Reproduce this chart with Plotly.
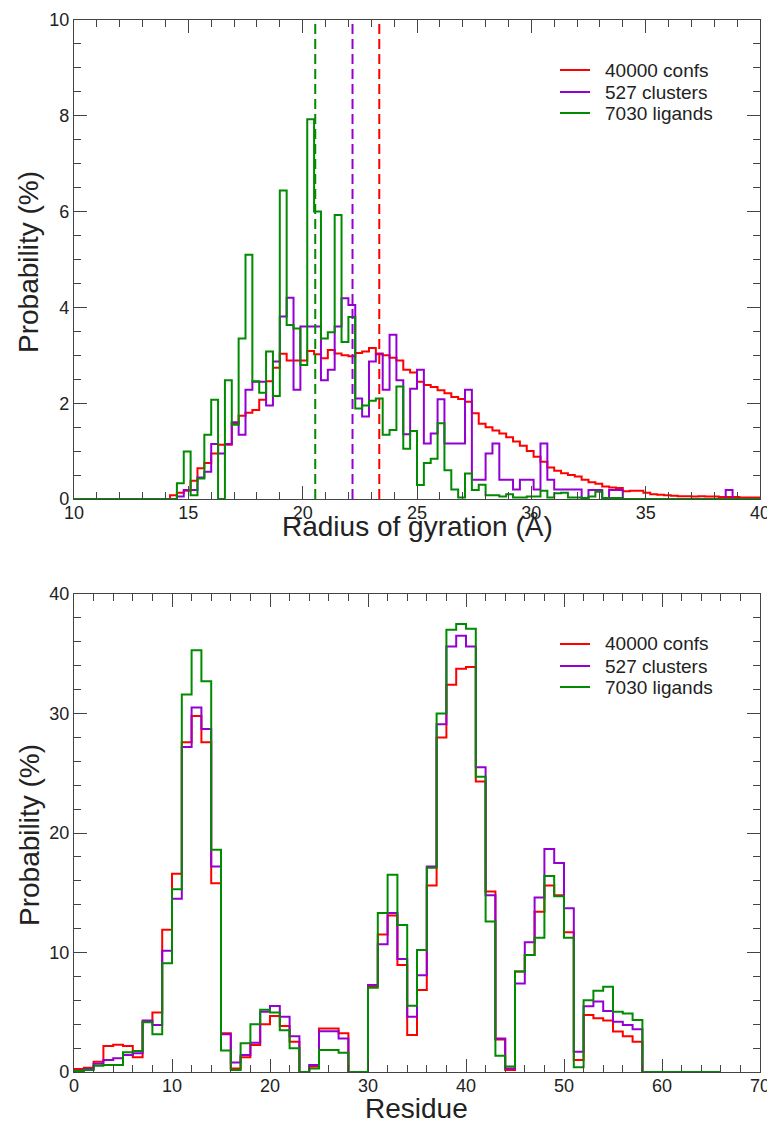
import numpy as np
import plotly.graph_objects as go

# ---------------- data ----------------
series_names = ["40000 confs", "527 clusters", "7030 ligands"]
series_colors = ["#ff0000", "#9400d3", "#008b00"]

# Radius of gyration histogram: bins of 0.3 A starting at 10 A (100 bins)
rg_start = 10.0
rg_width = 0.3
rg_red = [0]*14 + [
    0.08, 0.13, 0.17, 0.38, 0.64, 0.75, 0.95, 1.13, 1.13, 1.58,
    1.74, 1.80, 1.86, 2.07, 2.46, 2.74, 3.03, 2.89, 2.89, 2.89,
    3.09, 3.02, 2.94, 3.11, 3.04, 3.00, 2.98, 3.05, 3.08, 3.15,
    3.04, 3.00, 2.95, 2.89, 2.70, 2.64, 2.45, 2.38, 2.34, 2.27,
    2.21, 2.13, 2.09, 2.03, 1.79, 1.57, 1.50, 1.43, 1.37, 1.29,
    1.20, 1.11, 1.00, 0.88, 0.78, 0.66, 0.59, 0.54, 0.50, 0.47,
    0.40, 0.35, 0.32, 0.26, 0.24, 0.23, 0.16, 0.17, 0.17, 0.13,
    0.10, 0.09, 0.08, 0.07, 0.06, 0.06, 0.05, 0.06, 0.05, 0.05,
    0.04, 0.04, 0.04, 0.03, 0.03, 0.03]
rg_purple = [0]*15 + [
    0.05, 0.19, 0.19, 0.45, 0.57, 1.15, 0.95, 1.15, 1.60, 1.34,
    2.28, 2.45, 2.45, 1.95, 2.87, 3.81, 4.20, 2.28, 3.60, 3.60,
    3.60, 2.48, 2.70, 3.60, 4.19, 4.05, 2.10, 1.72, 2.87, 3.02,
    2.28, 3.43, 2.48, 1.35, 2.30, 2.70, 1.16, 1.37, 2.08, 1.16,
    1.16, 1.16, 2.28, 0.40, 0.40, 0.95, 1.16, 0.40, 0.40, 0.20,
    0.40, 0.40, 0.20, 1.16, 0.40, 0.20, 0.20, 0.20, 0.20, 0.02,
    0.19, 0.19, 0.00, 0.19, 0.19, 0, 0, 0, 0, 0,
    0, 0, 0, 0, 0, 0, 0, 0, 0, 0,
    0.19, 0, 0, 0, 0]
rg_green = [0]*15 + [
    0.33, 0.99, 0.08, 0.43, 1.34, 2.07, 0.00, 2.48, 1.55, 3.35,
    5.10, 2.46, 2.22, 3.08, 2.15, 6.44, 3.63, 3.56, 2.80, 7.93,
    6.00, 3.35, 3.48, 5.93, 3.28, 3.80, 1.89, 1.95, 2.05, 2.10,
    1.34, 1.44, 2.35, 1.05, 1.42, 0.29, 0.75, 0.84, 1.58, 0.60,
    0.20, 0.03, 0.53, 0.19, 0.30, 0.08, 0.08, 0.05, 0.10, 0.03,
    0.03, 0.05, 0.05, 0.17, 0.03, 0.12, 0.13, 0.03, 0.03, 0.02,
    0.05, 0.15, 0.02, 0.02, 0.02] + [0]*20
rg_means = [23.35, 22.18, 20.55]

# Residue histogram: bins of width 1 starting at 0 (66 bins)
res_start = 0.0
res_width = 1.0
res_red = [
    0.25, 0.36, 0.86, 2.18, 2.29, 2.18, 1.23, 4.20, 4.97, 11.9,
    16.6, 27.6, 29.8, 27.6, 15.8, 3.24, 0.30, 1.23, 2.26, 4.00,
    4.69, 3.85, 2.54, 0.00, 0.45, 3.65, 3.65, 3.24, 0.00, 0.00,
    7.20, 11.5, 13.1, 8.95, 3.10, 6.86, 15.6, 28.0, 32.4, 33.75,
    33.9, 24.3, 15.1, 2.73, 0.17, 8.40, 9.80, 13.4, 15.6, 14.8,
    11.7, 1.00, 4.77, 4.50, 4.30, 3.38, 3.00, 2.54] + [0]*8
res_purple = [
    0.10, 0.25, 0.70, 1.00, 1.15, 1.42, 1.56, 4.30, 3.93, 10.15,
    14.5, 27.2, 30.5, 28.7, 17.2, 3.15, 0.80, 1.42, 2.45, 5.05,
    5.52, 4.63, 3.00, 0.00, 0.59, 3.40, 3.40, 2.80, 0.00, 0.00,
    7.28, 10.7, 13.3, 9.46, 4.63, 8.10, 17.2, 29.1, 35.6, 36.5,
    35.6, 25.5, 14.8, 2.80, 0.30, 7.40, 10.85, 14.6, 18.66, 17.5,
    13.7, 1.70, 5.50, 5.90, 5.10, 4.20, 3.93, 3.57] + [0]*8
res_green = [
    0.08, 0.17, 0.53, 0.59, 0.59, 1.65, 1.76, 4.16, 3.15, 9.10,
    15.3, 31.6, 35.3, 32.7, 18.6, 1.80, 0.17, 2.40, 4.00, 5.20,
    4.97, 3.50, 1.98, 0.00, 0.30, 1.84, 1.84, 1.62, 0.00, 0.00,
    7.06, 13.3, 16.5, 12.3, 5.55, 10.2, 17.1, 30.0, 37.0, 37.5,
    37.1, 24.7, 12.6, 1.37, 0.45, 8.40, 9.80, 11.24, 16.4, 14.7,
    11.24, 0.39, 6.00, 6.80, 7.14, 5.05, 4.90, 4.35] + [0]*8

# ---------------- figure ----------------
PAGE_OFF = 8                      # default page margin round the plot div
W, H = 775 - PAGE_OFF, 1124 - PAGE_OFF
axis_col = "#444444"
text_col = "#222222"
font_family = "Liberation Sans, Arial, Helvetica, sans-serif"


def step_xy(start, width, vals):
    n = len(vals)
    edges = start + width * np.arange(n + 1)
    y = list(vals) + [vals[-1]]
    return edges, y


fig = go.Figure()

for name, col, vals in zip(series_names, series_colors, [rg_red, rg_purple, rg_green]):
    x, y = step_xy(rg_start, rg_width, vals)
    fig.add_trace(go.Scatter(x=x, y=y, mode="lines", line=dict(color=col, width=2, shape="hv"),
                             name=name, xaxis="x", yaxis="y", showlegend=False))

for col, m in zip(series_colors, rg_means):
    fig.add_trace(go.Scatter(x=[m, m], y=[0, 10], mode="lines",
                             line=dict(color=col, width=2, dash="10px,5px"),
                             showlegend=False, xaxis="x", yaxis="y", hoverinfo="skip"))

for name, col, vals in zip(series_names, series_colors, [res_red, res_purple, res_green]):
    x, y = step_xy(res_start, res_width, vals)
    fig.add_trace(go.Scatter(x=x, y=y, mode="lines", line=dict(color=col, width=2, shape="hv"),
                             name=name, xaxis="x2", yaxis="y2", showlegend=False))


def px_x(p):
    return (p - PAGE_OFF) / W


def px_y(p):
    return (H - (p - PAGE_OFF)) / H


x_dom = [px_x(74), px_x(760)]
top_dom = [px_y(499), px_y(20)]
bot_dom = [px_y(1072), px_y(594)]

common = dict(showline=True, linecolor=axis_col, linewidth=1.3, mirror="allticks",
              ticks="inside", ticklen=13, tickwidth=1.3, tickcolor=axis_col,
              showgrid=False, zeroline=False, automargin=False,
              tickfont=dict(size=18, color=text_col, family=font_family))
minor_style = dict(ticklen=7, ticks="inside", tickcolor=axis_col, tickwidth=1.3, showgrid=False)

fig.update_layout(
    width=W, height=H,
    margin=dict(l=0, r=0, t=0, b=0, pad=0, autoexpand=False),
    paper_bgcolor="white", plot_bgcolor="white",
    font=dict(family=font_family, color=text_col),
    showlegend=False,
    xaxis=dict(domain=x_dom, anchor="y", range=[10, 40], dtick=5, tick0=10, ticklabelstandoff=-3,
               minor=dict(dtick=1, **minor_style), **common),
    yaxis=dict(domain=top_dom, anchor="x", range=[0, 10], dtick=2, tick0=0,
               minor=dict(dtick=0.5, **minor_style), **common),
    xaxis2=dict(domain=x_dom, anchor="y2", range=[0, 70], dtick=10, tick0=0, ticklabelstandoff=-3,
                minor=dict(dtick=2, **minor_style), **common),
    yaxis2=dict(domain=bot_dom, anchor="x2", range=[0, 40], dtick=10, tick0=0,
                minor=dict(dtick=2, **minor_style), **common),
)

# legend drawn as key lines + labels (positions in pixels of the page)
legend_rows = {"top": [70, 92, 113], "bottom": [644, 666, 687]}
for rows in legend_rows.values():
    for name, col, yy in zip(series_names, series_colors, rows):
        fig.add_shape(type="line", xref="paper", yref="paper",
                      x0=px_x(560), x1=px_x(590), y0=px_y(yy), y1=px_y(yy),
                      line=dict(color=col, width=2))
        fig.add_annotation(text=name, x=px_x(603), y=px_y(yy), xref="paper", yref="paper",
                           showarrow=False, xanchor="left", yanchor="middle",
                           font=dict(size=19, color=text_col, family=font_family))

title_font = dict(size=28, color=text_col, family=font_family)
fig.add_annotation(text="Probability (%)", x=px_x(29), y=px_y(262), xref="paper", yref="paper",
                   textangle=-90, showarrow=False, font=title_font, xanchor="center", yanchor="middle")
fig.add_annotation(text="Probability (%)", x=px_x(29), y=px_y(835), xref="paper", yref="paper",
                   textangle=-90, showarrow=False, font=title_font, xanchor="center", yanchor="middle")
fig.add_annotation(text="Radius of gyration (Å)", x=px_x(418), y=px_y(526), xref="paper", yref="paper",
                   showarrow=False, font=title_font, xanchor="center", yanchor="middle")
fig.add_annotation(text="Residue", x=px_x(416), y=px_y(1108), xref="paper", yref="paper",
                   showarrow=False, font=title_font, xanchor="center", yanchor="middle")

fig.write_html("out.html")
